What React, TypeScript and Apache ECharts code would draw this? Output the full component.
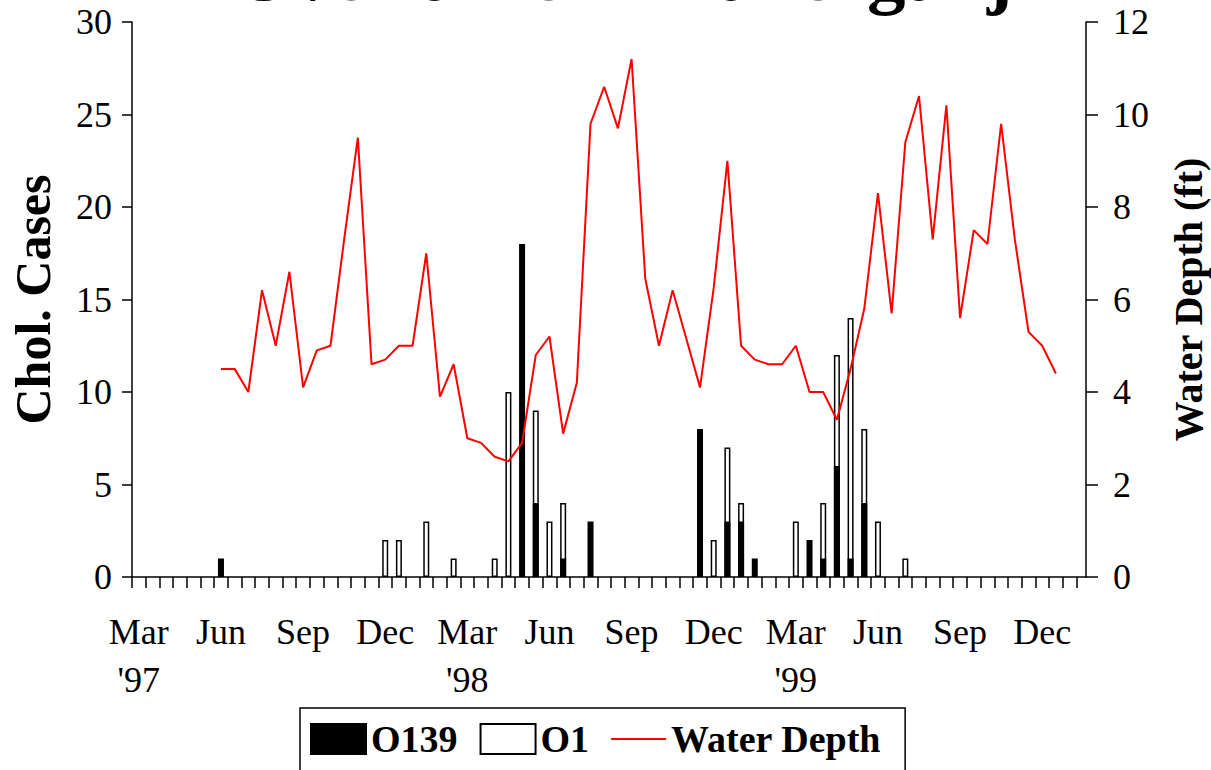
import React, { useEffect, useRef } from 'react';
import * as echarts from 'echarts';

const FONT = "'Liberation Serif', 'Times New Roman', serif";

// x axis: half-month periods, period 0 = first half of March 1997
const periodCount = 70;
const axisEnd = 69.7;
const labelPeriods = [0, 6, 12, 18, 24, 30, 36, 42, 48, 54, 60, 66];
const monthLabels = ['Mar', 'Jun', 'Sep', 'Dec', 'Mar', 'Jun', 'Sep', 'Dec', 'Mar', 'Jun', 'Sep', 'Dec'];
const yearLabels = ["'97", '', '', '', "'98", '', '', '', "'99", '', '', ''];

// cholera cases
const o139Periods = [6, 28, 29, 31, 33, 41, 43, 44, 45, 49, 50, 51, 52, 53];
const o139Cases = [1, 18, 4, 1, 3, 8, 3, 3, 1, 2, 1, 6, 1, 4];
const o1Periods = [18, 19, 21, 23, 26, 27, 29, 30, 31, 42, 43, 44, 48, 50, 51, 52, 53, 54, 56];
const o1Cases = [2, 2, 3, 1, 1, 10, 5, 3, 3, 2, 4, 1, 3, 3, 6, 13, 4, 3, 1];

// water depth (ft), first value at period 6
const depthStart = 6;
const waterDepth = [
  4.5, 4.5, 4.0, 6.2, 5.0, 6.6, 4.1, 4.9, 5.0, 7.3,
  9.5, 4.6, 4.7, 5.0, 5.0, 7.0, 3.9, 4.6, 3.0, 2.9,
  2.6, 2.5, 2.9, 4.8, 5.2, 3.1, 4.2, 9.8, 10.6, 9.7,
  11.2, 6.45, 5.0, 6.2, 5.15, 4.1, 6.25, 9.0, 5.0, 4.7,
  4.6, 4.6, 5.0, 4.0, 4.0, 3.4, 4.5, 5.8, 8.3, 5.7,
  9.4, 10.4, 7.3, 10.2, 5.6, 7.5, 7.2, 9.8, 7.3, 5.3,
  5.0, 4.4,
];

const leftTicks = [0, 5, 10, 15, 20, 25, 30];
const rightTicks = [0, 2, 4, 6, 8, 10, 12];

export default function App() {
  const ref = useRef<HTMLDivElement>(null);
  useEffect(() => {
    document.body.style.margin = '0';
    const chart = echarts.init(ref.current!, null, { renderer: 'svg' });

    const tickValues = Array.from({ length: periodCount }, (_, i) => i);
    const labelValues = labelPeriods.map((p) => p + 0.5);
    const labelText: Record<string, string> = {};
    labelValues.forEach((v, i) => {
      labelText[String(v)] = monthLabels[i] + (yearLabels[i] ? '\n' + yearLabels[i] : '');
    });

    const o139Data = o139Periods.map((p, i) => [p + 0.5, o139Cases[i]]);
    // the O1 bar is drawn from 0 to the total, the O139 bar on top covers its lower part
    const o1Data = o1Periods.map((p, i) => {
      const j = o139Periods.indexOf(p);
      return [p + 0.5, o1Cases[i] + (j >= 0 ? o139Cases[j] : 0)];
    });
    const depthData = waterDepth.map((v, i) => [depthStart + i + 0.5, v]);

    const axisLine = { show: true, lineStyle: { color: '#000', width: 1.5 } };
    const labelStyle = { color: '#000', fontFamily: FONT, fontSize: 36 };

    chart.setOption({
      animation: false,
      backgroundColor: '#fff',
      textStyle: { fontFamily: FONT, color: '#000' },
      grid: {
        left: 132,
        right: 125,
        top: 22,
        bottom: 193,
        containLabel: false,
        outerBoundsMode: 'none',
      },
      xAxis: {
        type: 'value',
        min: 0,
        max: axisEnd,
        axisLine,
        splitLine: { show: false },
        axisTick: {
          show: true,
          customValues: tickValues,
          length: 11,
          inside: false,
          lineStyle: { color: '#000', width: 1.5 },
        },
        axisLabel: {
          ...labelStyle,
          customValues: labelValues,
          margin: 31,
          lineHeight: 48,
          formatter: (v: number) => labelText[String(v)] ?? '',
        },
      },
      yAxis: [
        {
          type: 'value',
          position: 'left',
          min: leftTicks[0],
          max: leftTicks[leftTicks.length - 1],
          interval: leftTicks[1] - leftTicks[0],
          name: 'Chol. Cases',
          nameLocation: 'middle',
          nameRotate: 90,
          nameGap: 74,
          nameTextStyle: { fontFamily: FONT, fontSize: 50, fontWeight: 'bold', color: '#000' },
          axisLine,
          splitLine: { show: false },
          axisTick: { show: true, length: 10, lineStyle: { color: '#000', width: 1.5 } },
          axisLabel: { ...labelStyle, margin: 20 },
        },
        {
          type: 'value',
          position: 'right',
          min: rightTicks[0],
          max: rightTicks[rightTicks.length - 1],
          interval: rightTicks[1] - rightTicks[0],
          name: 'Water Depth (ft)',
          nameLocation: 'middle',
          nameRotate: 90,
          nameGap: 82,
          nameTextStyle: { fontFamily: FONT, fontSize: 40, fontWeight: 'bold', color: '#000' },
          axisLine,
          splitLine: { show: false },
          axisTick: { show: true, length: 12, lineStyle: { color: '#000', width: 1.5 } },
          axisLabel: { ...labelStyle, margin: 27 },
        },
      ],
      legend: {
        left: 300,
        top: 708,
        orient: 'horizontal',
        itemWidth: 55,
        itemHeight: 30,
        itemGap: 22,
        padding: [12, 24, 30, 10],
        borderColor: '#000',
        borderWidth: 1.5,
        textStyle: { fontFamily: FONT, fontSize: 38, fontWeight: 'bold', color: '#000' },
        data: [
          { name: 'O139', icon: 'rect' },
          { name: 'O1', icon: 'rect' },
          {
            name: 'Water Depth',
            icon: 'path://M0,0L0,0M0,14L55,14L55,16L0,16ZM55,30L55,30',
          },
        ],
      },
      graphic: [
        {
          type: 'text',
          x: 623,
          y: -26,
          silent: true,
          style: {
            text: 'Over time in Bakerganj',
            font: `bold 77px ${FONT}`,
            fill: '#000',
            align: 'center',
            verticalAlign: 'middle',
          },
        },
      ],
      series: [
        {
          name: 'O1',
          type: 'bar',
          xAxisIndex: 0,
          yAxisIndex: 0,
          data: o1Data,
          barWidth: 6,
          barGap: '-100%',
          z: 2,
          itemStyle: { color: '#fff', borderColor: '#000', borderWidth: 1.5 },
        },
        {
          name: 'O139',
          type: 'bar',
          xAxisIndex: 0,
          yAxisIndex: 0,
          data: o139Data,
          barWidth: 6,
          barGap: '-100%',
          z: 3,
          itemStyle: { color: '#000', borderColor: '#000', borderWidth: 1.5 },
        },
        {
          name: 'Water Depth',
          type: 'line',
          xAxisIndex: 0,
          yAxisIndex: 1,
          data: depthData,
          symbol: 'none',
          z: 4,
          lineStyle: { color: '#ff0000', width: 2 },
          itemStyle: { color: '#ff0000' },
        },
      ],
    });
    return () => chart.dispose();
  }, []);
  return <div ref={ref} style={{ width: 1211, height: 770, overflow: 'hidden' }} />;
}
